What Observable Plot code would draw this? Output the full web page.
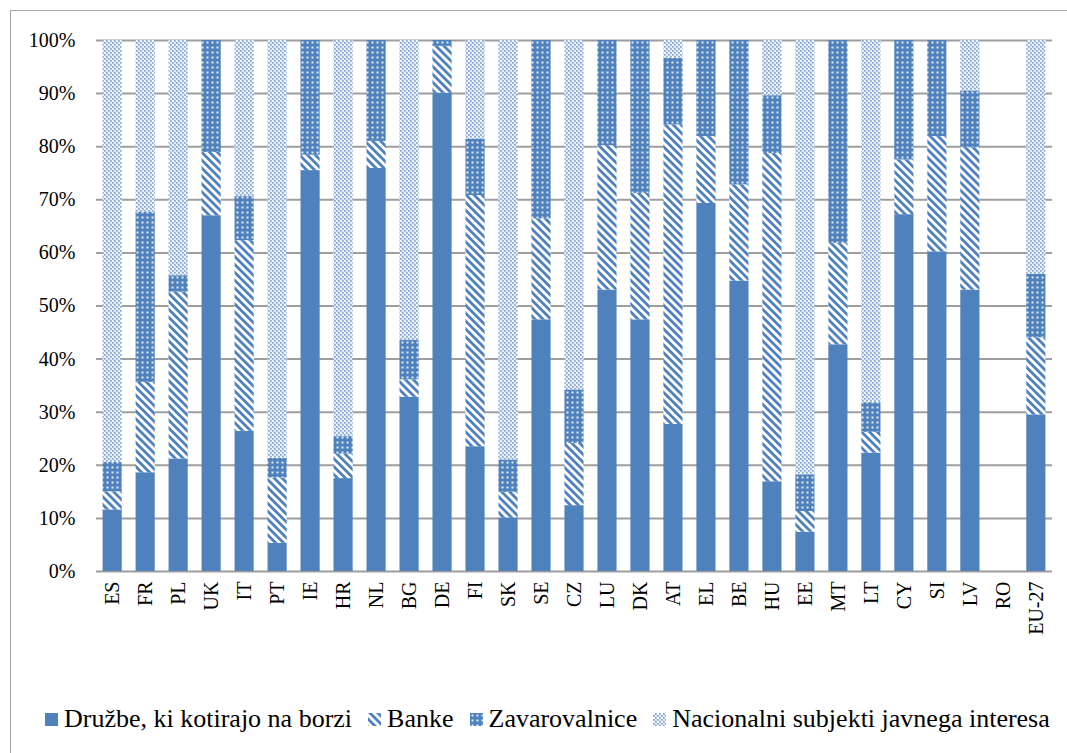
<!DOCTYPE html>
<html><head><meta charset="utf-8">
<script src="https://cdn.jsdelivr.net/npm/d3@7"></script>
<script src="https://cdn.jsdelivr.net/npm/@observablehq/plot@0.6"></script>
<style>
body{margin:0;background:#fff;font-family:'Liberation Serif','Times New Roman',Tinos,'DejaVu Serif',serif;}
#frame{position:absolute;left:10px;top:10px;width:1100px;height:800px;border-left:1.5px solid #a6a6a6;border-top:1.5px solid #a6a6a6;box-sizing:border-box;}
#chart{position:absolute;left:0;top:0;}
#legend{position:absolute;left:45px;top:704px;display:flex;align-items:center;font-size:26px;white-space:nowrap;color:#000;}
.item{display:flex;align-items:center;margin-right:16px}
.item svg{margin-right:6px}
#chart svg text{font-family:'Liberation Serif','Times New Roman',Tinos,'DejaVu Serif',serif;}
</style></head><body>
<svg width="0" height="0" style="position:absolute">
<defs>
<pattern id="pBanks" patternUnits="userSpaceOnUse" width="5.6" height="5.6" patternTransform="rotate(-45)">
<rect width="5.6" height="5.6" fill="#ffffff"/><rect width="2.8" height="5.6" fill="#4f81bd"/></pattern>
<pattern id="pIns" patternUnits="userSpaceOnUse" width="5" height="5">
<rect width="5" height="5" fill="#4f81bd"/><rect x="1.5" y="1.5" width="2" height="2" fill="#e4ecf6"/></pattern>
<pattern id="pNat" patternUnits="userSpaceOnUse" width="4" height="4">
<rect width="4" height="4" fill="#a9c0e0"/><rect x="0" y="0" width="2" height="2" fill="#f4f7fb"/><rect x="2" y="2" width="2" height="2" fill="#e2eaf5"/><rect x="2" y="0" width="1" height="1" fill="#7c9fcf"/><rect x="0" y="2" width="1" height="1" fill="#7c9fcf"/></pattern>
</defs></svg>
<div id="frame"></div>
<div id="chart"></div>
<div id="legend"></div>
<script>
const categories = ["ES","FR","PL","UK","IT","PT","IE","HR","NL","BG","DE","FI","SK","SE","CZ","LU","DK","AT","EL","BE","HU","EE","MT","LT","CY","SI","LV","RO","EU-27"];
const listed     = [11.6,18.6,21.2,67.0,26.4,5.3,75.5,17.5,75.9,32.8,90.1,23.5,10.1,47.4,12.4,53.0,47.4,27.7,69.3,54.7,16.9,7.4,42.7,22.3,67.2,60.2,53.0,0,29.5];
const banks      = [3.4,17.0,31.4,11.9,35.9,12.3,2.9,4.6,5.1,3.3,8.8,47.3,4.8,19.0,11.7,27.2,23.8,56.4,12.6,18.1,61.8,3.9,19.1,3.9,10.3,21.7,26.8,0,14.5];
const insurers   = [5.6,32.1,3.1,21.1,8.3,3.7,21.6,3.3,19.0,7.4,1.1,10.6,6.1,33.6,10.1,19.8,28.8,12.6,18.1,27.2,10.9,6.9,38.2,5.6,22.5,18.1,10.7,0,12.0];
const publicInt  = [79.4,32.3,44.3,0,29.4,78.7,0,74.6,0,56.5,0,18.6,79.0,0,65.8,0,0,3.3,0,0,10.4,81.8,0,68.2,0,0,9.5,0,44.0];
const seriesNames = ["Družbe, ki kotirajo na borzi","Banke","Zavarovalnice","Nacionalni subjekti javnega interesa"];
const seriesFills = ["#4f81bd","url(#pBanks)","url(#pIns)","url(#pNat)"];
const yTicks = [0,10,20,30,40,50,60,70,80,90,100];

const seriesValues = [listed, banks, insurers, publicInt];
const data = [];
categories.forEach((c, i) => {
  seriesNames.forEach((s, j) => data.push({country: c, series: s, value: seriesValues[j][i]}));
});

const chart = Plot.plot({
  width: 1067, height: 660,
  marginLeft: 96, marginRight: 15, marginTop: 40, marginBottom: 89,
  style: {fontFamily: "'Liberation Serif','Times New Roman',Tinos,'DejaVu Serif',serif", fontSize: "20px", color: "#000", background: "transparent", overflow: "visible"},
  x: {domain: categories, paddingInner: 0.42, paddingOuter: 0.2, round: false, label: null},
  y: {domain: [0, 100], label: null},
  color: {domain: seriesNames, range: seriesFills},
  marks: [
    Plot.ruleY(yTicks, {stroke: "#9e9e9e", strokeWidth: 2}),
    Plot.barY(data, {x: "country", y: "value", fill: "series"}),
    Plot.axisY(yTicks, {tickSize: 0, tickPadding: 21, tickFormat: d => d + "%", label: null}),
    Plot.axisX({tickSize: 0, tickPadding: 10, tickRotate: -90, label: null})
  ]
});
document.getElementById("chart").appendChild(chart);

const legend = document.getElementById("legend");
seriesNames.forEach((s, j) => {
  const item = document.createElement("div");
  item.className = "item";
  item.innerHTML = `<svg width="13" height="13"><rect width="13" height="13" fill="${seriesFills[j]}"/></svg><span>${s}</span>`;
  legend.appendChild(item);
});
</script>
</body></html>
